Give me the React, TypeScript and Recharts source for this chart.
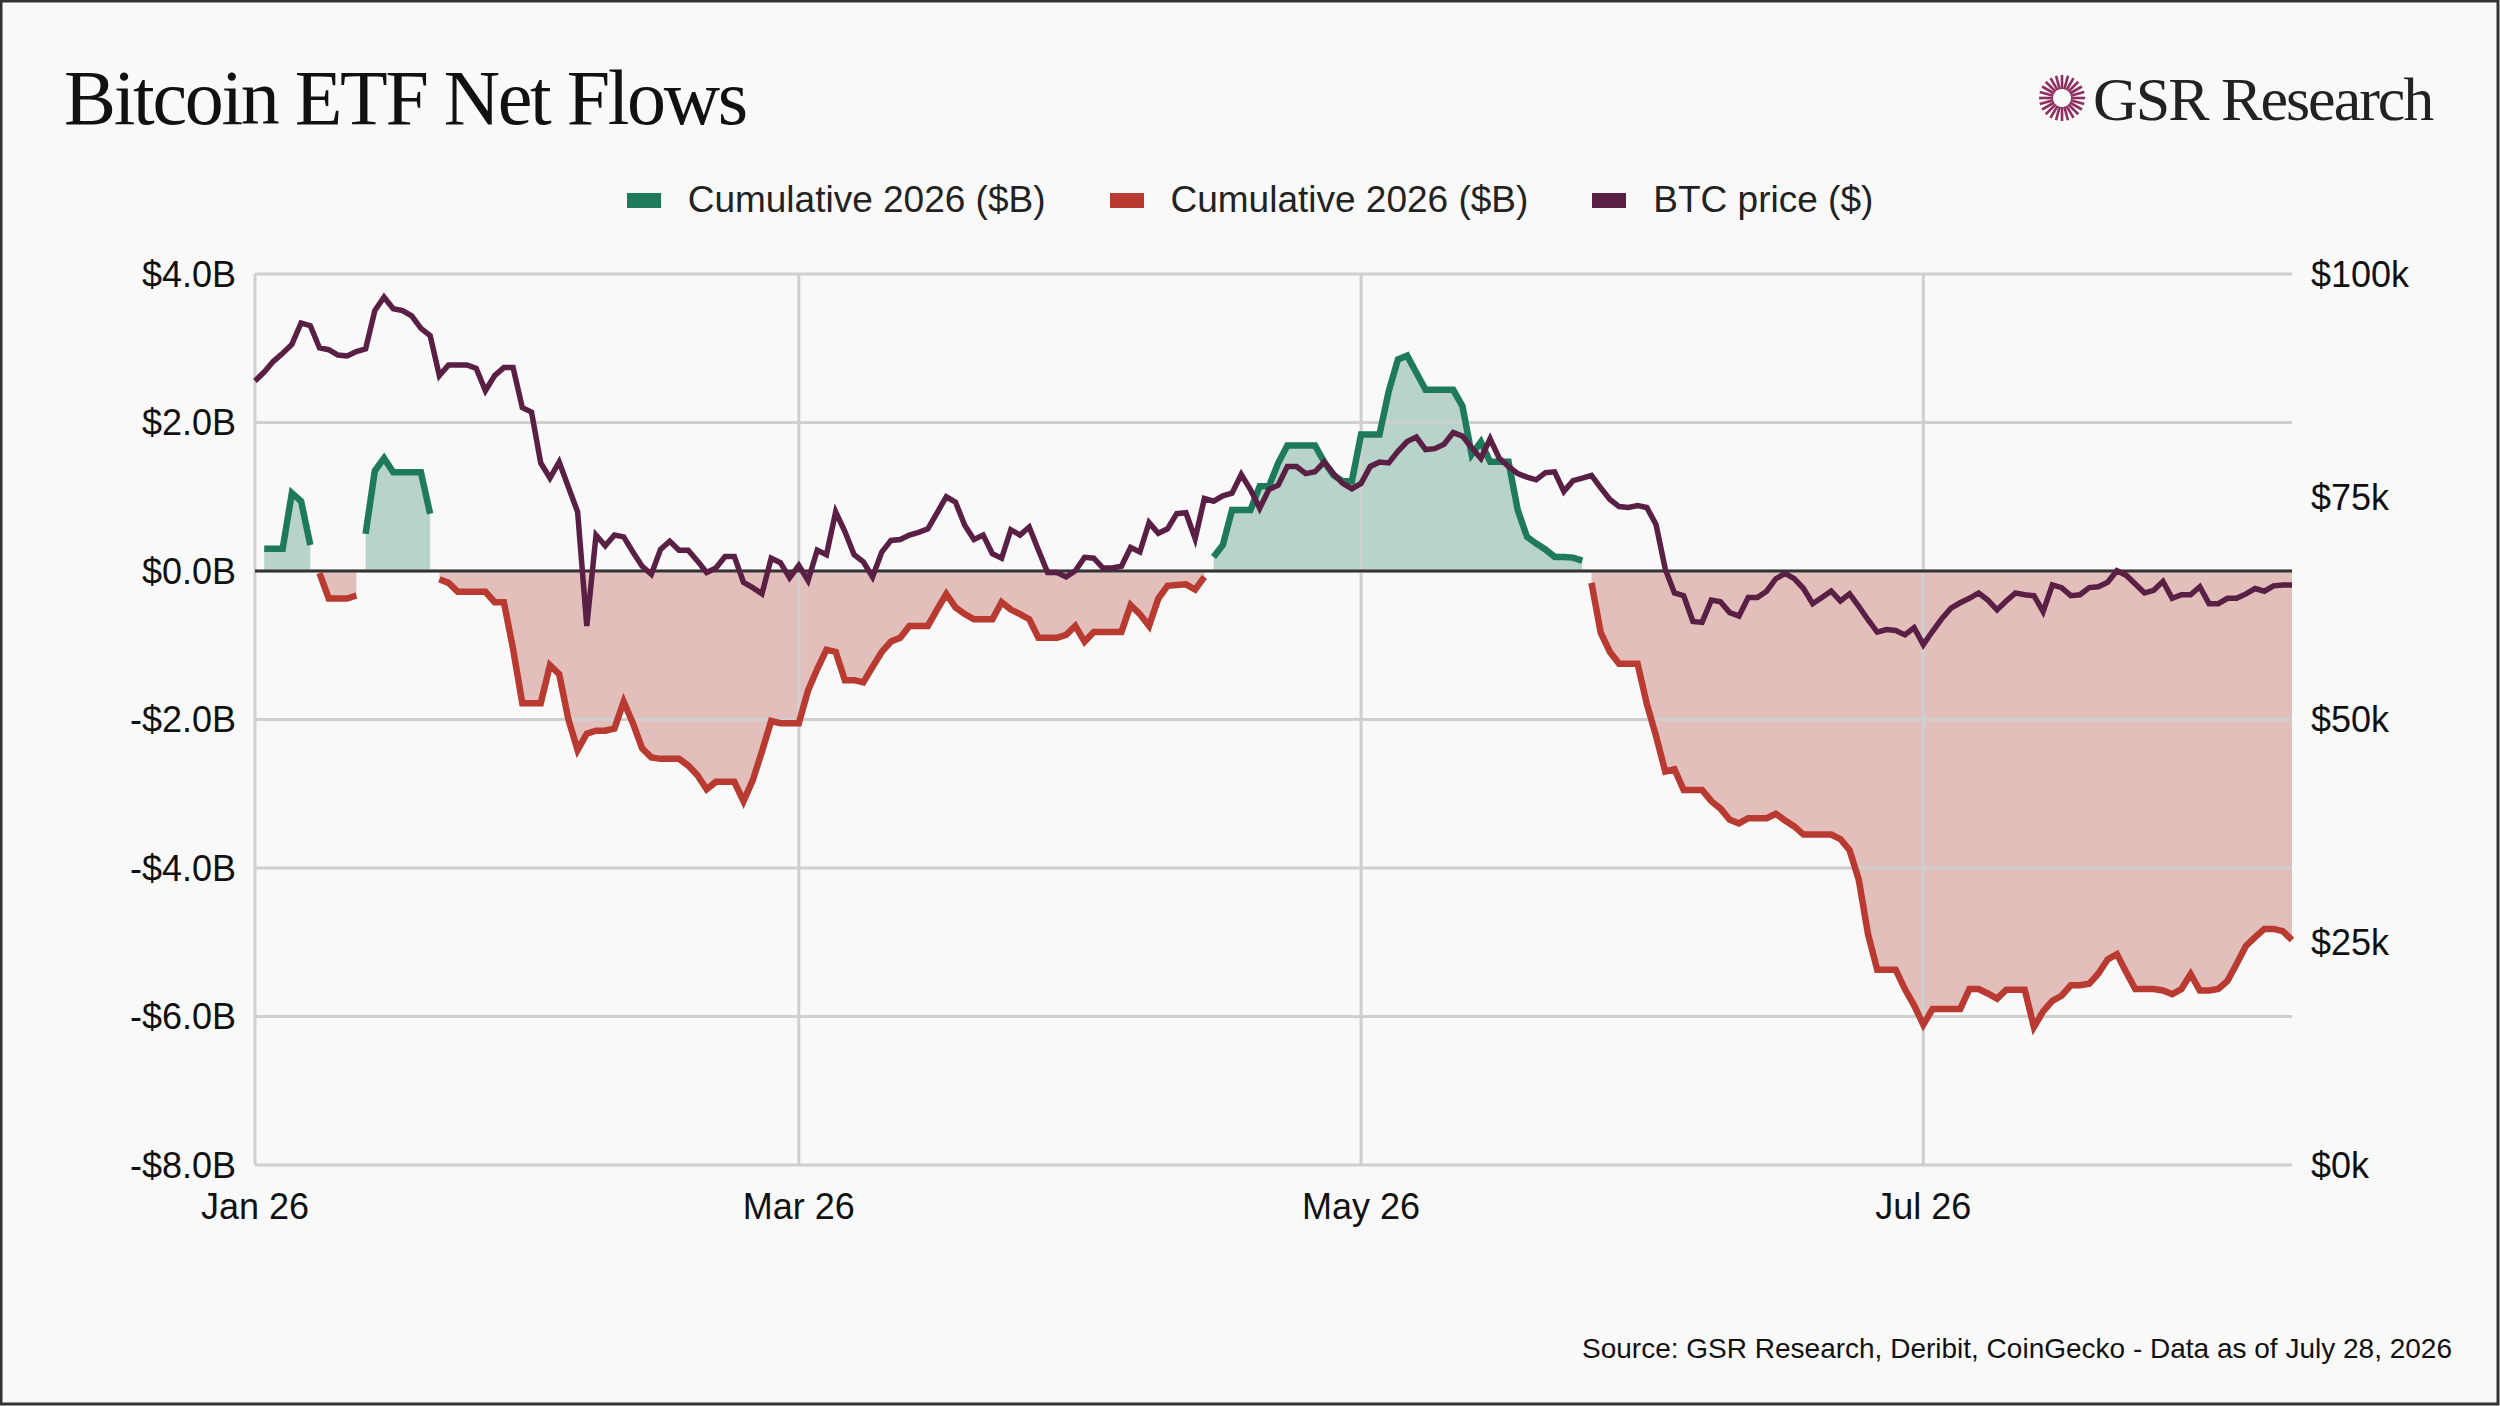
import React from 'react';
import {
  ComposedChart,
  Area,
  Line,
  XAxis,
  YAxis,
  CartesianGrid,
  ReferenceLine,
} from 'recharts';

// cumulative 2026 net flows, $B, one value per day from Jan 1
const flows = [
  -0.06, 0.3, 0.3, 0.3, 1.05, 0.94, 0.35, -0.03, -0.37, -0.37,
  -0.37, -0.33, 0.5, 1.35, 1.52, 1.33, 1.33, 1.33, 1.33, 0.77,
  -0.11, -0.16, -0.28, -0.28, -0.28, -0.28, -0.42, -0.42, -1.05, -1.78,
  -1.78, -1.78, -1.27, -1.39, -2.0, -2.41, -2.19, -2.15, -2.15, -2.12,
  -1.76, -2.05, -2.39, -2.51, -2.53, -2.53, -2.53, -2.62, -2.75, -2.94,
  -2.84, -2.84, -2.84, -3.1, -2.82, -2.43, -2.02, -2.05, -2.05, -2.05,
  -1.61, -1.32, -1.06, -1.09, -1.47, -1.47, -1.5, -1.29, -1.09, -0.95,
  -0.9, -0.74, -0.74, -0.74, -0.52, -0.31, -0.49, -0.58, -0.65, -0.65,
  -0.65, -0.42, -0.52, -0.58, -0.65, -0.9, -0.9, -0.9, -0.86, -0.74,
  -0.95, -0.82, -0.82, -0.82, -0.82, -0.46, -0.58, -0.74, -0.37, -0.2,
  -0.19, -0.18, -0.25, -0.08, 0.19, 0.35, 0.82, 0.82, 0.82, 1.14,
  1.14, 1.45, 1.69, 1.69, 1.69, 1.69, 1.47, 1.29, 1.21, 1.21,
  1.84, 1.84, 1.84, 2.42, 2.85, 2.9, 2.67, 2.44, 2.44, 2.44,
  2.44, 2.22, 1.57, 1.74, 1.47, 1.47, 1.47, 0.82, 0.46, 0.37,
  0.29, 0.19, 0.19, 0.18, 0.14, -0.16, -0.83, -1.09, -1.25, -1.25,
  -1.25, -1.79, -2.22, -2.7, -2.67, -2.95, -2.95, -2.95, -3.1, -3.2,
  -3.35, -3.4, -3.33, -3.33, -3.33, -3.27, -3.36, -3.44, -3.55, -3.55,
  -3.55, -3.55, -3.61, -3.76, -4.16, -4.89, -5.37, -5.37, -5.37, -5.63,
  -5.85, -6.11, -5.9, -5.9, -5.9, -5.9, -5.63, -5.63, -5.69, -5.76,
  -5.64, -5.64, -5.64, -6.14, -5.93, -5.79, -5.72, -5.58, -5.58, -5.56,
  -5.42, -5.23, -5.16, -5.4, -5.63, -5.63, -5.63, -5.65, -5.7, -5.63,
  -5.43, -5.65, -5.65, -5.63, -5.52, -5.29, -5.05, -4.93, -4.82, -4.82,
  -4.85, -4.97,
];

// BTC price, $k
const prices = [
  88.0, 89.0, 90.2, 91.1, 92.1, 94.5, 94.2, 91.7, 91.5, 90.9,
  90.8, 91.3, 91.6, 95.9, 97.4, 96.1, 95.9, 95.3, 93.9, 93.1,
  88.6, 89.8, 89.8, 89.8, 89.4, 86.9, 88.6, 89.5, 89.5, 85.0,
  84.5, 78.8, 77.1, 78.9, 76.1, 73.3, 60.5, 70.7, 69.5, 70.7,
  70.5, 68.8, 67.2, 66.3, 69.1, 70.0, 69.0, 69.0, 67.8, 66.5,
  67.0, 68.3, 68.3, 65.4, 64.8, 64.1, 68.1, 67.6, 65.9, 67.3,
  65.6, 69.0, 68.5, 73.3, 71.1, 68.5, 67.7, 66.0, 68.8, 70.1,
  70.2, 70.7, 71.0, 71.4, 73.2, 75.0, 74.4, 71.8, 70.2, 70.7,
  68.6, 68.1, 71.3, 70.7, 71.6, 69.0, 66.5, 66.5, 66.0, 66.7,
  68.2, 68.1, 67.0, 67.0, 67.2, 69.3, 68.8, 72.1, 70.9, 71.4,
  73.1, 73.2, 70.3, 74.8, 74.5, 75.1, 75.4, 77.5, 75.8, 73.7,
  75.8, 76.3, 78.4, 78.4, 77.6, 77.8, 78.9, 77.6, 76.5, 75.9,
  76.5, 78.4, 78.9, 78.8, 80.1, 81.2, 81.7, 80.3, 80.4, 80.9,
  82.2, 81.8, 80.5, 79.3, 81.5, 79.3, 78.4, 77.6, 77.2, 76.9,
  77.7, 77.8, 75.6, 76.8, 77.1, 77.4, 76.0, 74.7, 73.9, 73.8,
  74.0, 73.8, 71.9, 66.9, 64.2, 63.9, 61.0, 60.9, 63.4, 63.2,
  62.0, 61.6, 63.7, 63.7, 64.4, 65.8, 66.4, 65.8, 64.7, 63.0,
  63.7, 64.4, 63.3, 64.1, 62.7, 61.2, 59.8, 60.1, 60.0, 59.5,
  60.3, 58.4, 59.9, 61.3, 62.5, 63.1, 63.6, 64.2, 63.4, 62.3,
  63.3, 64.2, 64.0, 63.9, 62.1, 65.1, 64.8, 63.9, 64.0, 64.8,
  64.9, 65.4, 66.7, 66.2, 65.2, 64.2, 64.5, 65.5, 63.6, 64.0,
  64.0, 64.9, 63.0, 63.0, 63.6, 63.6, 64.1, 64.7, 64.4, 65.0,
  65.1, 65.1,
];

const xTicks = [0, 59, 120, 181];
const xTickLabels = ['Jan 26', 'Mar 26', 'May 26', 'Jul 26'];
const flowTicks = [-8, -6, -4, -2, 0, 2, 4];
const priceTicks = [0, 25, 50, 75, 100];

const GREEN = '#1e7a5a';
const GREEN_FILL = '#b8d4ca';
const RED = '#b83a30';
const RED_FILL = '#e3bfbc';
const PURPLE = '#5a1f44';

const legendItems = [
  { label: 'Cumulative 2026 ($B)', color: GREEN },
  { label: 'Cumulative 2026 ($B)', color: RED },
  { label: 'BTC price ($)', color: PURPLE },
];

const data = flows.map((v, i) => ({
  day: i,
  inflow: v >= 0 ? v : null,
  outflow: v < 0 ? v : null,
  price: prices[i],
}));

const SANS = '"Liberation Sans", Arial, sans-serif';
const SERIF = '"Liberation Serif", "Times New Roman", serif';

const fmtFlow = (v: number) => (v < 0 ? `-$${Math.abs(v).toFixed(1)}B` : `$${v.toFixed(1)}B`);
const fmtDay = (v: number) => xTickLabels[xTicks.indexOf(v)] ?? '';

function Logo() {
  const spokes = Array.from({ length: 24 }, (_, k) => (k * Math.PI * 2) / 24);
  return (
    <g>
      {spokes.map((a, k) => (
        <line
          key={k}
          x1={2062 + Math.cos(a) * 9}
          y1={98 + Math.sin(a) * 9}
          x2={2062 + Math.cos(a) * 23}
          y2={98 + Math.sin(a) * 23}
          stroke="#8e2f5f"
          strokeWidth={2.6}
        />
      ))}
      <text x={2093} y={120} fontFamily={SERIF} fontSize={62} letterSpacing={-2} fill="#222">
        GSR Research
      </text>
    </g>
  );
}

export default function App() {
  const tickStyle = { fontFamily: SANS, fontSize: 36, fill: '#111' };
  return (
    <div style={{ position: 'absolute', left: 0, top: 0, width: 2500, height: 1406, background: '#f9f9f9' }}>
      <ComposedChart
        width={2500}
        height={1406}
        data={data}
        margin={{ top: 274, right: 8, bottom: 181, left: 55 }}
      >
        <Area
          dataKey="inflow"
          type="linear"
          stroke="none"
          fill={GREEN_FILL}
          fillOpacity={1}
          baseValue={0}
          isAnimationActive={false}
          dot={false}
          activeDot={false}
        />
        <Area
          dataKey="outflow"
          type="linear"
          stroke="none"
          fill={RED_FILL}
          fillOpacity={1}
          baseValue={0}
          isAnimationActive={false}
          dot={false}
          activeDot={false}
        />
        <CartesianGrid
          stroke="#cfcfcf"
          strokeWidth={3}
          verticalValues={xTicks}
          horizontalValues={flowTicks}
          zIndex={150}
        />
        <XAxis
          dataKey="day"
          type="number"
          domain={[0, 221]}
          ticks={xTicks}
          tickFormatter={fmtDay}
          axisLine={false}
          tickLine={false}
          tickMargin={22}
          height={60}
          tick={tickStyle}
        />
        <YAxis
          domain={[-8, 4]}
          ticks={flowTicks}
          tickFormatter={fmtFlow}
          axisLine={false}
          tickLine={false}
          tickMargin={13}
          width={200}
          tick={tickStyle}
        />
        <YAxis
          yAxisId="price"
          orientation="right"
          domain={[0, 100]}
          ticks={priceTicks}
          tickFormatter={(v: number) => `$${v}k`}
          axisLine={false}
          tickLine={false}
          tickMargin={13}
          width={200}
          tick={{ ...tickStyle, textAnchor: 'start' }}
        />
        <ReferenceLine y={0} stroke="#333" strokeWidth={3} zIndex={350} />
        <Line
          dataKey="inflow"
          type="linear"
          stroke={GREEN}
          strokeWidth={6.5}
          dot={false}
          activeDot={false}
          isAnimationActive={false}
        />
        <Line
          dataKey="outflow"
          type="linear"
          stroke={RED}
          strokeWidth={6.5}
          dot={false}
          activeDot={false}
          isAnimationActive={false}
        />
        <Line
          yAxisId="price"
          dataKey="price"
          type="linear"
          stroke={PURPLE}
          strokeWidth={5.5}
          dot={false}
          activeDot={false}
          isAnimationActive={false}
        />
      </ComposedChart>

      <div
        style={{
          position: 'absolute',
          left: 0,
          top: 178,
          width: 2500,
          height: 44,
          display: 'flex',
          justifyContent: 'center',
          alignItems: 'center',
          fontFamily: SANS,
          fontSize: 37,
          color: '#222',
        }}
      >
        {legendItems.map((it, k) => (
          <div key={k} style={{ display: 'flex', alignItems: 'center', marginRight: k < legendItems.length - 1 ? 64 : 0 }}>
            <span style={{ display: 'inline-block', width: 34, height: 15, background: it.color, marginRight: 27 }} />
            <span>{it.label}</span>
          </div>
        ))}
      </div>

      <svg
        width={2500}
        height={1406}
        style={{ position: 'absolute', left: 0, top: 0, pointerEvents: 'none' }}
      >
        <text x={64} y={124} fontFamily={SERIF} fontSize={78} letterSpacing={-2.3} fill="#111">
          Bitcoin ETF Net Flows
        </text>
        <Logo />
        <text x={2452} y={1358} textAnchor="end" fontFamily={SANS} fontSize={28} fill="#111">
          Source: GSR Research, Deribit, CoinGecko - Data as of July 28, 2026
        </text>
        <rect x={1} y={1} width={2497} height={1403} fill="none" stroke="#333" strokeWidth={3} />
      </svg>
    </div>
  );
}
